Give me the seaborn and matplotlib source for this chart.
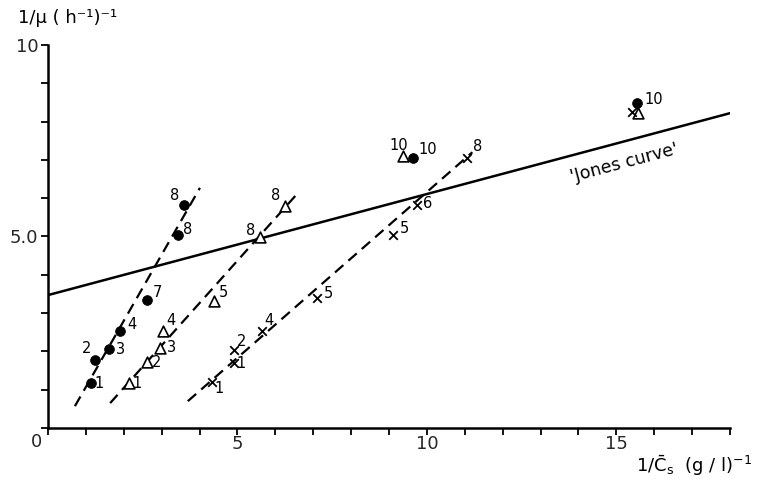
import matplotlib
matplotlib.use("Agg")
import matplotlib.pyplot as plt
import matplotlib.transforms as mtransforms
import seaborn as sns
import pandas as pd
import numpy as np

# ---- data ----
circ_x = [1.13, 1.24, 1.61, 1.90, 2.61, 3.43, 3.59, 9.63, 15.54]
circ_y = [1.17, 1.78, 2.06, 2.53, 3.34, 5.04, 5.82, 7.05, 8.49]
circ_lab = ["1", "2", "3", "4", "7", "8", "8", "10", "10"]

tri_x = [2.14, 2.61, 2.96, 3.03, 4.38, 5.60, 6.25, 9.37, 15.57]
tri_y = [1.17, 1.72, 2.09, 2.53, 3.32, 4.99, 5.80, 7.10, 8.22]
tri_lab = ["1", "2", "3", "4", "5", "8", "8", "10", ""]

crs_x = [4.33, 4.91, 4.91, 5.65, 7.10, 9.10, 9.74, 11.06, 15.41]
crs_y = [1.20, 1.70, 2.04, 2.53, 3.39, 5.04, 5.82, 7.05, 8.25]
crs_lab = ["1", "1", "2", "4", "5", "5", "6", "8", ""]

# fitted dashed lines (end points)
fit1_x = [0.71, 4.01]
fit1_y = [0.57, 6.27]
fit2_x = [1.64, 6.60]
fit2_y = [0.65, 6.14]
fit3_x = [3.69, 11.20]
fit3_y = [0.70, 7.20]

# 'Jones curve'
jones_x = [0.0, 18.0]
jones_y = [3.47, 8.22]

x_ticks = [0, 5, 10, 15]
x_ticklabels = ["0", "5", "10", "15"]
y_ticks = [0, 5, 10]
y_ticklabels = ["", "5.0", "10"]

# ---- drawing ----
sns.set_theme(style="ticks")
plt.rcParams["font.family"] = ["DejaVu Sans"]
plt.rcParams["mathtext.fontset"] = "dejavusans"

fig = plt.figure(figsize=(7.58, 4.88), dpi=100)
ax = fig.add_axes([48 / 758, 1 - 428 / 488, (730 - 48) / 758, (428 - 45) / 488])

k = "black"
for fx, fy in [(fit1_x, fit1_y), (fit2_x, fit2_y), (fit3_x, fit3_y)]:
    sns.lineplot(x=fx, y=fy, ax=ax, color=k, lw=1.6, estimator=None,
                 dashes=False, linestyle=(0, (5, 3)))
sns.lineplot(x=jones_x, y=jones_y, ax=ax, color=k, lw=1.8, estimator=None)

sns.scatterplot(x=circ_x, y=circ_y, ax=ax, marker="o", s=50, color=k,
                edgecolor=k, linewidth=0.5, zorder=5)
sns.scatterplot(x=tri_x, y=tri_y, ax=ax, marker="^", s=60, facecolor="white",
                edgecolor=k, linewidth=1.2, zorder=5)
sns.scatterplot(x=crs_x, y=crs_y, ax=ax, marker="x", s=38, color=k,
                linewidth=1.3, zorder=5)

circ_off = [(8, 0), (-8, 11), (11, 0), (12, 7), (11, 8), (10, 5), (-9, 10), (15, 8), (17, 3)]
tri_off = [(8, 0), (10, 0), (11, 0), (8, 11), (9, 8), (-10, 6), (-9, 10), (-4, 11), (0, 0)]
crs_off = [(7, -6), (7, -1), (8, 8), (7, 11), (11, 5), (12, 6), (11, 2), (11, 11), (0, 0)]

for xs, ys, labs, offs in [(circ_x, circ_y, circ_lab, circ_off),
                           (tri_x, tri_y, tri_lab, tri_off),
                           (crs_x, crs_y, crs_lab, crs_off)]:
    for x, y, t, o in zip(xs, ys, labs, offs):
        if t:
            ax.annotate(t, (x, y), xytext=o, textcoords="offset pixels",
                        ha="center", va="center", fontsize=10.5, color=k)

ax.text(15.2, 6.92, "'Jones curve'", rotation=14.9, rotation_mode="anchor",
        ha="center", va="center", fontsize=12.5, color=k)

ax.set_xlim(0, 18)
ax.set_ylim(0, 10)
ax.set_xticks(x_ticks)
ax.set_xticklabels(x_ticklabels, fontsize=13)
ax.set_yticks(y_ticks)
ax.set_yticklabels(y_ticklabels, fontsize=13)
ax.set_xticks(np.arange(0, 19, 1), minor=True)
ax.set_yticks(np.arange(0, 11, 1), minor=True)
ax.tick_params(which="both", direction="out", length=5, width=1.3, color=k)
ax.tick_params(axis="x", which="major", pad=0)
ax.tick_params(axis="y", which="major", pad=2)
zero_lab = ax.xaxis.get_majorticklabels()[0]
zero_lab.set_horizontalalignment("right")
zero_lab.set_transform(zero_lab.get_transform() +
                       mtransforms.ScaledTranslation(-6 / 100, 2 / 100, fig.dpi_scale_trans))
for s in ["top", "right"]:
    ax.spines[s].set_visible(False)
for s in ["left", "bottom"]:
    ax.spines[s].set_linewidth(1.8)
    ax.spines[s].set_color(k)

fig.text(18 / 758, 1 - 18 / 488, "1/μ ( h⁻¹)⁻¹", ha="left", va="center",
         fontsize=13, color=k)
fig.text(752 / 758, 1 - 466 / 488, r"1/$\bar{\mathrm{C}}_\mathrm{s}$  (g / l)$^{-1}$",
         ha="right", va="center", fontsize=13, color=k)

fig.savefig("out.png", dpi=100, facecolor="white")
